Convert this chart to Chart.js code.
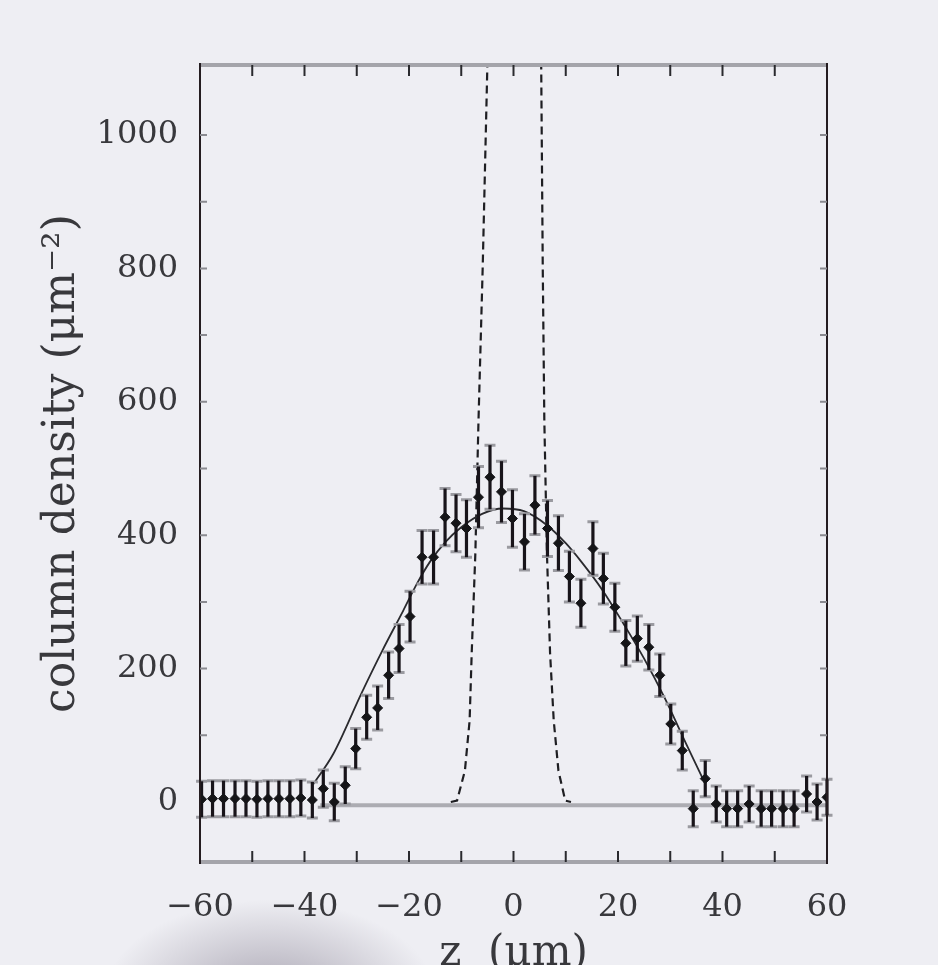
<!DOCTYPE html>
<html><head><meta charset="utf-8">
<script src="https://cdn.jsdelivr.net/npm/chart.js@4"></script>
<style>
html,body{margin:0;padding:0;overflow:hidden;}
body{width:938px;height:965px;background:
 radial-gradient(ellipse 165px 95px at 270px 995px, rgba(150,145,160,0.75), rgba(150,145,160,0) 100%),
 #eeeef3;}
canvas{display:block}
</style></head><body>
<canvas id="c" width="938" height="965"></canvas>
<script>
// measured positions z (µm)
const zPositions = [-59.7,-57.6,-55.5,-53.3,-51.2,-49.1,-47.0,-44.9,-42.8,-40.7,
  -38.5,-36.4,-34.3,-32.2,-30.2,-28.1,-26.0,-23.9,-21.9,-19.8,
  -17.5,-15.3,-13.1,-11.0,-9.0,-6.7,-4.5,-2.3,-0.2,2.1,
  4.1,6.5,8.6,10.7,12.9,15.2,17.2,19.4,21.5,23.7,
  25.9,28.0,30.1,32.3,34.4,36.7,38.8,40.8,42.9,45.1,
  47.4,49.4,51.6,53.7,56.1,58.1,60.0];
// column density (µm^-2)
const densityValues = [4,5,5,5,5,4,5,5,5,6,3,
  20,0,25,80,127,141,190,230,278,367,367,427,418,410,457,487,465,425,390,
  445,410,388,338,298,380,335,292,238,245,232,190,117,77,
  -10,35,-3,-10,-10,-3,-10,-10,-10,-10,12,0,7];
const densityErrors = [27,27,27,27,27,27,27,27,27,27,27,
  28,28,28,30,33,33,35,36,38,40,40,43,43,43,46,48,46,43,42,
  44,42,41,38,36,40,38,36,34,34,34,32,30,29,
  27,27,27,27,27,27,27,27,27,27,27,27,27];
// solid fit curve
const fitZ      = [-38.3,-34.5,-29.1,-25.1,-21.1,-18.5,-16,-13,-10,-6,-2,2,6.4,10,13,17,21,25,29,33,36.7];
const fitValues = [27,72,163,227,287,327,360,390,412,432,440,436,415,388,360,318,268,215,155,88,27];
// dashed narrow profile (clipped at top)
const dashedZ      = [-12,-10.8,-9.3,-8.4,-8.0,-7.3,-6.7,-5.9,-5.0,-4.0,0,4.0,5.3,5.6,5.9,6.4,7.0,7.7,8.6,9.9,11];
const dashedValues = [0,2,47,122,223,373,572,800,1105,1500,null,1500,1105,800,572,373,223,122,47,2,0];
// grey zero baseline
const baselineZ = [-37,60];
const baselineValues = [-5,-5];
// ticks
const xTickLabels = [-60,-40,-20,0,20,40,60];
const yTickLabels = [0,200,400,600,800,1000];
const xMinorTicks = [-50,-40,-30,-20,-10,0,10,20,30,40,50];
const yMinorTicks = [100,200,300,400,500,600,700,800,900,1000];

const toXY = (xs, ys) => xs.map((x,i)=>({x:x, y:ys[i]}));
const fmt = v => (v < 0 ? '\u2212' + Math.abs(v) : String(v));

const errorBarPlugin = {
  id:'errbars',
  beforeDatasetDraw(chart, args){
    if (args.index !== 3) return;
    const {ctx, scales:{x, y}} = chart;
    ctx.save();
    ctx.lineCap = 'butt';
    zPositions.forEach((z,i)=>{
      const px = x.getPixelForValue(z);
      const top = y.getPixelForValue(densityValues[i] + densityErrors[i]);
      const bot = y.getPixelForValue(densityValues[i] - densityErrors[i]);
      ctx.strokeStyle = '#9a9aa0'; ctx.lineWidth = 3;
      ctx.beginPath();
      ctx.moveTo(px-5.5, top); ctx.lineTo(px+5.5, top);
      ctx.moveTo(px-5.5, bot); ctx.lineTo(px+5.5, bot);
      ctx.stroke();
      ctx.strokeStyle = '#18141a'; ctx.lineWidth = 3.2;
      ctx.beginPath(); ctx.moveTo(px, top); ctx.lineTo(px, bot); ctx.stroke();
    });
    ctx.restore();
  }
};

const framePlugin = {
  id:'frame',
  afterDraw(chart){
    const {ctx, chartArea:a, scales:{x, y}} = chart;
    ctx.save();
    ctx.strokeStyle = '#a4a4aa'; ctx.lineWidth = 4;
    ctx.beginPath();
    ctx.moveTo(a.left, a.top); ctx.lineTo(a.right, a.top);
    ctx.moveTo(a.left, a.bottom); ctx.lineTo(a.right, a.bottom);
    ctx.stroke();
    ctx.strokeStyle = '#241c20'; ctx.lineWidth = 2;
    ctx.beginPath();
    ctx.moveTo(a.left, a.top-2); ctx.lineTo(a.left, a.bottom+2);
    ctx.moveTo(a.right, a.top-2); ctx.lineTo(a.right, a.bottom+2);
    ctx.stroke();
    ctx.strokeStyle = '#2a2a2e'; ctx.lineWidth = 2;
    ctx.beginPath();
    xMinorTicks.forEach(v=>{
      const px = x.getPixelForValue(v);
      ctx.moveTo(px, a.bottom); ctx.lineTo(px, a.bottom-11);
      ctx.moveTo(px, a.top); ctx.lineTo(px, a.top+11);
    });
    ctx.stroke();
    ctx.strokeStyle = '#8a8a90'; ctx.lineWidth = 2;
    ctx.beginPath();
    yMinorTicks.forEach(v=>{
      const py = y.getPixelForValue(v);
      ctx.moveTo(a.left, py); ctx.lineTo(a.left+7, py);
      ctx.moveTo(a.right, py); ctx.lineTo(a.right-7, py);
    });
    ctx.stroke();
    ctx.restore();
  }
};

new Chart(document.getElementById('c'), {
  type:'scatter',
  data:{datasets:[
    {label:'baseline', type:'line', data:toXY(baselineZ, baselineValues), borderColor:'#acacb2', borderWidth:4, pointRadius:0, order:4},
    {label:'dashed', type:'line', data:toXY(dashedZ, dashedValues), borderColor:'#1e1e22', borderWidth:2.2, borderDash:[8,5], pointRadius:0, spanGaps:false, order:3},
    {label:'fit', type:'line', data:toXY(fitZ, fitValues), borderColor:'#2a2a2e', borderWidth:1.8, pointRadius:0, cubicInterpolationMode:'monotone', order:2},
    {label:'data', data:toXY(zPositions, densityValues), pointStyle:'rectRot', pointRadius:5, backgroundColor:'#151518', borderColor:'#151518', borderWidth:1, order:1}
  ]},
  options:{
    responsive:false, animation:false, devicePixelRatio:1,
    layout:{padding:{left:0, right:111, top:65, bottom:0}},
    plugins:{legend:{display:false}, tooltip:{enabled:false}},
    scales:{
      x:{type:'linear', min:-60, max:60,
        grid:{display:false, drawTicks:false}, border:{display:false},
        afterBuildTicks: s => { s.ticks = xTickLabels.map(v=>({value:v})); },
        afterFit: s => { s.height = 103; },
        ticks:{padding:26, color:'#38383c', maxRotation:0, autoSkip:false,
          font:{family:'DejaVu Serif', size:32}, callback: v => fmt(v)},
        title:{display:true, text:'z  (\u03bcm)', color:'#38383c',
          font:{family:'DejaVu Serif', size:42, lineHeight:0.5}, padding:0}
      },
      y:{type:'linear', min:-90, max:1105,
        grid:{display:false, drawTicks:false}, border:{display:false},
        afterBuildTicks: s => { s.ticks = yTickLabels.map(v=>({value:v})); },
        afterFit: s => { s.width = 200; },
        ticks:{padding:22, color:'#38383c', autoSkip:false,
          font:{family:'DejaVu Serif', size:32}, callback: v => fmt(v)},
        title:{display:true, text:'column density (\u03bcm\u207b\u00b2)', color:'#38383c',
          font:{family:'DejaVu Serif', size:44, lineHeight:1}, padding:{top:41, bottom:0}}
      }
    }
  },
  plugins:[errorBarPlugin, framePlugin]
});
</script>
</body></html>
